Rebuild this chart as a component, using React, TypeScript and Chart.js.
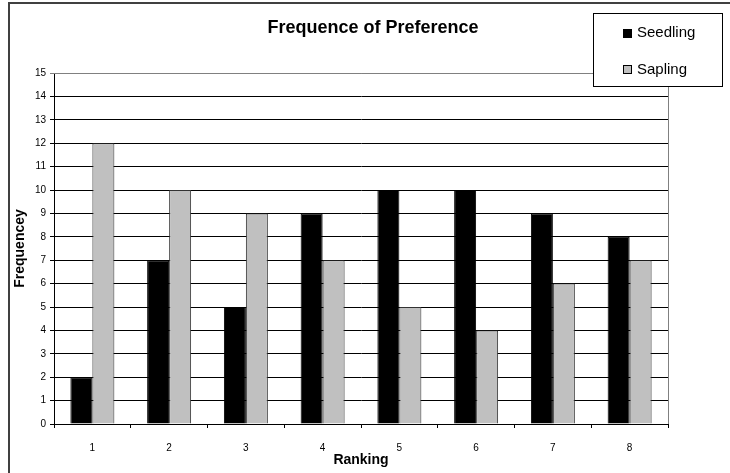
import { useEffect, useRef } from "react";
import { Chart, registerables } from "chart.js";

Chart.register(...registerables);

// Ranking categories and how often each one was chosen
const rankings = ["1", "2", "3", "4", "5", "6", "7", "8"];
const seedling = [2, 7, 5, 9, 10, 10, 9, 8];
const sapling = [12, 10, 9, 7, 5, 4, 6, 7];

const chartTitle = "Frequence of Preference";
const xTitle = "Ranking";
const yTitle = "Frequencey";
const seriesNames = ["Seedling", "Sapling"];

const FONT = "'Liberation Sans', Arial, sans-serif";

// Outer frame, heading, plot-area border and boxed legend
const decorations = {
  id: "decorations",
  beforeDraw(chart: any) {
    const ctx = chart.ctx;
    ctx.save();
    ctx.fillStyle = "#ffffff";
    ctx.fillRect(0, 0, chart.width, chart.height);
    ctx.fillStyle = "#404040";
    ctx.fillRect(8, 2, 2, chart.height - 2);
    ctx.fillRect(8, 2, chart.width - 8, 2);
    ctx.fillStyle = "#000";
    ctx.font = `bold 18px ${FONT}`;
    ctx.textAlign = "center";
    ctx.textBaseline = "middle";
    ctx.fillText(chartTitle, 373, 28);
    ctx.restore();
  },
  beforeDatasetsDraw(chart: any) {
    const { top, right, bottom, left } = chart.chartArea;
    const ctx = chart.ctx;
    ctx.save();
    ctx.strokeStyle = "#808080";
    ctx.lineWidth = 1;
    ctx.beginPath();
    ctx.moveTo(left, Math.round(top) + 0.5);
    ctx.lineTo(Math.round(right) + 0.5, Math.round(top) + 0.5);
    ctx.lineTo(Math.round(right) + 0.5, bottom);
    ctx.stroke();
    ctx.restore();
  },
  afterDraw(chart: any) {
    const ctx = chart.ctx;
    const x0 = 593;
    const y0 = 13;
    const w = 129;
    const h = 73;
    ctx.save();
    ctx.fillStyle = "#ffffff";
    ctx.fillRect(x0, y0, w, h);
    ctx.strokeStyle = "#000";
    ctx.lineWidth = 1;
    ctx.strokeRect(x0 + 0.5, y0 + 0.5, w, h);
    chart.data.datasets.forEach((ds: any, i: number) => {
      const cy = 33 + i * 36.5;
      ctx.fillStyle = ds.backgroundColor;
      ctx.fillRect(623, Math.round(cy - 4.5), 9, 9);
      ctx.strokeStyle = "#000";
      ctx.strokeRect(623.5, Math.round(cy - 4.5) + 0.5, 8, 8);
      ctx.fillStyle = "#000";
      ctx.font = `15px ${FONT}`;
      ctx.textAlign = "left";
      ctx.textBaseline = "middle";
      ctx.fillText(ds.label, 637, cy);
    });
    ctx.restore();
  },
};

export default function App() {
  const canvasRef = useRef<HTMLCanvasElement | null>(null);

  useEffect(() => {
    if (!canvasRef.current) return;
    const chart = new Chart(canvasRef.current, {
      type: "bar",
      data: {
        labels: rankings,
        datasets: [
          {
            label: seriesNames[0],
            data: seedling,
            backgroundColor: "#000000",
            borderColor: "#000000",
            borderWidth: 1,
            categoryPercentage: 0.573,
            barPercentage: 1,
          },
          {
            label: seriesNames[1],
            data: sapling,
            backgroundColor: "#C0C0C0",
            borderColor: "#333333",
            borderWidth: 1,
            categoryPercentage: 0.573,
            barPercentage: 1,
          },
        ],
      },
      options: {
        responsive: false,
        animation: false,
        devicePixelRatio: 1,
        layout: { padding: { left: 0, top: 73, right: 62, bottom: 0 } },
        plugins: {
          legend: { display: false },
          title: { display: false },
          tooltip: { enabled: false },
        },
        scales: {
          x: {
            offset: true,
            grid: {
              display: true,
              drawOnChartArea: false,
              drawTicks: true,
              tickLength: 4,
              color: "#000",
              offset: true,
            },
            border: { display: true, color: "#000", width: 1 },
            ticks: {
              font: { family: FONT, size: 10 },
              color: "#000",
              padding: 14,
              maxRotation: 0,
              autoSkip: false,
            },
            title: {
              display: true,
              text: xTitle,
              color: "#000",
              font: { family: FONT, size: 14, weight: "bold" },
              padding: { top: 0, bottom: 4.5 },
            },
            afterFit: (s: any) => {
              s.height = 49;
            },
          },
          y: {
            min: 0,
            max: 15,
            ticks: {
              stepSize: 1,
              font: { family: FONT, size: 10 },
              color: "#000",
              padding: 4,
            },
            grid: {
              color: (c: any) => (c.tick && c.tick.value === 15 ? "#808080" : "#000"),
              tickLength: 4,
              drawTicks: true,
            },
            border: { display: true, color: "#000", width: 1 },
            title: {
              display: true,
              text: yTitle,
              color: "#000",
              font: { family: FONT, size: 14, weight: "bold" },
              padding: { top: 12, bottom: 0 },
            },
            afterFit: (s: any) => {
              s.width = 54;
            },
          },
        },
      },
      plugins: [decorations],
    } as any);
    return () => chart.destroy();
  }, []);

  return (
    <div style={{ position: "fixed", left: 0, top: 0, width: 730, height: 473, background: "#fff" }}>
      <canvas ref={canvasRef} width={730} height={473} style={{ display: "block" }} />
    </div>
  );
}
